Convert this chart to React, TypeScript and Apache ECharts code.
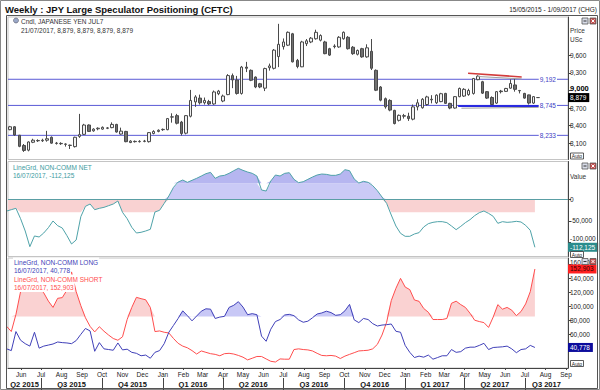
import React, { useEffect, useRef } from 'react';
import * as echarts from 'echarts';

const DAY = 86400000;
const WEEK = 7 * DAY;
const candleStart = Date.UTC(2015, 4, 15);
const cotStart = Date.UTC(2015, 4, 10);
const axisStart = Date.UTC(2015, 4, 12);
const axisEnd = Date.UTC(2017, 8, 4);

// weekly candles (USc x100) from 15/05/2015
const opens = [8330,8380,8235,8060,7980,8115,8145,8140,8150,8200,8100,8095,8085,8065,8040,8215,8250,8410,8310,8345,8340,8360,8365,8420,8255,8300,8110,8130,8125,8130,8125,8265,8300,8330,8330,8545,8570,8460,8270,8560,8805,8870,8790,8810,8770,8945,8820,8930,9255,9180,8950,9400,9345,9230,9115,9040,9390,9380,9580,9750,9775,9970,9515,9405,9800,9830,9885,9860,9830,9715,9750,9745,9885,9910,9740,9620,9715,9575,9670,9345,9060,8860,8830,8660,8490,8560,8560,8510,8720,8705,8760,8850,8790,8810,8950,8780,8700,8895,8905,8930,8950,9185,9150,8980,8880,8785,8990,8985,9040,9095,9000,8950,8925,8785,8879];
const closes = [8380,8240,8045,7975,8120,8150,8140,8150,8175,8100,8095,8090,8080,8060,8200,8245,8410,8300,8340,8355,8370,8355,8420,8290,8305,8125,8135,8125,8130,8135,8280,8300,8320,8335,8520,8550,8440,8265,8570,8830,8890,8790,8830,8770,8975,8990,8905,9255,9180,8950,9400,9380,9175,9060,9060,9375,9420,9690,9790,9830,9995,9490,9410,9830,9850,9895,9995,9940,9630,9605,9760,9910,9995,9715,9630,9685,9575,9730,9380,9005,8835,8720,8665,8435,8575,8570,8520,8720,8790,8850,8890,8840,8920,8945,8780,8700,8895,9035,9020,9000,9205,9245,8955,8870,8760,8980,8980,9035,9120,9020,8995,8870,8785,8895,8879];
const lows = [8320,8225,8030,7950,7960,8100,8120,8120,8125,8090,8075,8070,8040,8000,8025,8190,8240,8290,8295,8320,8330,8340,8355,8280,8245,8115,8100,8110,8110,8115,8110,8250,8285,8310,8320,8450,8420,8230,8250,8540,8720,8760,8760,8750,8755,8920,8800,8920,9040,8930,8930,9315,9160,9040,9040,8990,9340,9360,9400,9700,9760,9480,9380,9400,9760,9810,9870,9840,9620,9590,9720,9730,9870,9700,9610,9600,9560,9560,9350,8990,8815,8690,8645,8420,8470,8520,8480,8490,8660,8690,8740,8780,8770,8800,8770,8680,8690,8885,8890,8910,8930,9175,8940,8855,8740,8770,8950,8975,9030,8980,8950,8860,8760,8770,8879];
const highs = [8395,8390,8240,8085,8130,8175,8165,8175,8310,8215,8120,8115,8095,8075,8210,8600,8430,8420,8355,8370,8385,8375,8455,8430,8365,8310,8150,8145,8150,8155,8290,8320,8335,8350,8530,8610,8600,8480,8580,9010,8920,8930,8880,8840,9000,9010,8930,9280,9290,9250,9420,9490,9360,9240,9130,9390,9460,9710,10140,9890,10010,9985,9540,9850,9880,9915,10040,9960,9850,9730,9790,9930,10010,9930,9760,9700,9730,9790,9880,9360,9075,8880,8850,8670,8590,8600,8620,8760,8850,8870,8910,8920,8935,8960,8960,8790,8905,9050,9040,9030,9215,9260,9165,8990,8900,8990,9010,9045,9190,9210,9010,8960,8930,8905,8879];

// weekly CFTC positions from 10/05/2015 to 16/07/2017
const netValues = [-27000,-23900,-20700,-45000,-73900,-110700,-85600,-88000,-78600,-66100,-50400,-61400,-66900,-84800,-104400,-95000,-40300,-16000,-10600,-23900,-20700,-18400,-14500,-10600,-3500,-30100,-45000,-65300,-78600,-77000,-73900,-70000,-29300,-25400,-9000,8200,28500,41000,45700,40300,45000,49700,55100,60600,63700,49700,55100,56700,61400,67600,73100,68400,64500,61400,55100,22300,19900,43400,57500,55100,61400,62900,47300,39500,41800,47300,52800,57500,59800,59000,56700,56700,59800,70000,67600,48100,38700,42600,40300,32500,20700,5900,-9000,-36400,-62200,-79400,-86400,-86400,-80900,-77800,-64500,-56700,-53600,-52000,-52000,-54300,-62200,-70800,-63000,-54300,-47300,-37900,-30900,-27000,-32500,-39500,-55900,-52000,-53600,-52800,-51200,-52800,-60600,-72300,-112125];
const longValues = [38800,36300,63500,51100,46200,42700,62500,39800,42700,44200,45700,48600,47700,47200,46200,50600,59500,67900,64400,35300,47700,38800,37800,36800,47200,37300,38300,33800,32400,28900,29900,25400,33800,36300,46200,62500,72300,82200,93100,86200,78800,85700,92600,96000,95500,82200,84200,85200,98000,101000,106200,98500,87600,89100,87600,57000,49600,66900,77800,80700,87200,88100,86200,80200,76800,78300,83200,88600,90100,92600,90600,86700,87600,93100,102300,80200,76300,82200,80700,74800,71400,72800,73300,74300,63900,62500,43700,33800,26400,28400,26900,29900,24000,26400,28900,28900,37800,33800,34800,39800,41200,41200,43700,46700,37800,40700,41200,41700,42700,38800,33300,37800,38800,43700,40778];
const shortValues = [70900,63500,88000,120500,122700,146800,143000,125600,118800,107000,98000,111000,112000,122700,148700,120500,100500,83200,70900,63000,70400,64000,58500,53600,51100,56000,80700,98000,112400,110500,108900,98000,63500,64400,62500,61500,53600,46700,42700,40300,36300,31400,35800,33800,31900,30900,28900,31900,32400,31400,29400,26900,23000,25400,27900,27900,24400,21000,20000,24400,24000,24000,37800,38800,37800,37300,35800,32400,29400,28900,29400,28400,25000,28400,30900,33300,35800,36300,36800,38800,45200,58500,76800,107700,125200,139500,127100,123400,108600,106700,96500,91100,80700,80700,80700,82200,103900,106900,102000,98000,89600,79700,77800,76300,69400,84200,102000,95500,98000,94100,86200,92100,103000,120500,152903];

const priceTicks = [8100, 8400, 8700, 9000, 9300, 9600];
const netTicks = [0, -50000, -100000];
const posTicks = [40000, 60000, 80000, 100000, 120000, 140000, 160000];
const posLabelTicks = [60000, 80000, 100000, 120000, 140000, 160000];
const levelLines = [9192, 8745, 8233];
const netUpper = 38000;
const netLower = -30000;
const posUpper = 85000;
const monthNames = ['Jan','Feb','Mar','Apr','May','Jun','Jul','Aug','Sep','Oct','Nov','Dec'];

const FONT = '"Liberation Sans", Arial, sans-serif';
const LEVEL_COLOR = '#5a5ad6';
const HIDDEN_LINE = { width: 0, color: 'rgba(0,0,0,0)', type: 'solid' };
const fmt = (v: number) => String(v).replace(/\B(?=(\d{3})+(?!\d))/g, ',');

function buildOption() {
  const candleDates = opens.map((_, i) => candleStart + i * WEEK);
  const cotDates = netValues.map((_, i) => cotStart + i * WEEK);
  const candleData = opens.map((o, i) => [candleDates[i], o, closes[i], lows[i], highs[i]]);
  const pair = (vals: number[]) => vals.map((v, i) => [cotDates[i], v]);
  const lastClose = closes[closes.length - 1];
  const lastNet = netValues[netValues.length - 1];
  const lastLong = longValues[longValues.length - 1];
  const lastShort = shortValues[shortValues.length - 1];

  const monthStarts: number[] = [];
  for (let y = 2015, m = 5; y < 2017 || (y === 2017 && m <= 8); m++) {
    if (m > 11) { m = 0; y++; }
    monthStarts.push(Date.UTC(y, m, 1));
  }
  const quarterStarts: number[] = [];
  const quarterMids: number[] = [];
  for (let y = 2015, q = 1; y < 2017 || (y === 2017 && q <= 2); q++) {
    if (q > 3) { q = 0; y++; }
    const s = Date.UTC(y, q * 3, 1);
    const e = q === 3 ? Date.UTC(y + 1, 0, 1) : Date.UTC(y, q * 3 + 3, 1);
    if (s > axisStart) quarterStarts.push(s);
    const vs = Math.max(s, axisStart), ve = Math.min(e, axisEnd);
    quarterMids.push((vs + ve) / 2);
  }

  const dateAxis = (gridIndex: number, show: boolean) => ({
    type: 'value', gridIndex, min: axisStart, max: axisEnd, show,
    splitLine: { show: false },
    axisLine: { show, onZero: false, lineStyle: { color: '#444', width: 1 } },
    axisTick: { show, length: 2, customValues: monthStarts, lineStyle: { color: '#444' } },
    axisLabel: {
      show, customValues: monthStarts, fontSize: 6.5, color: '#222', fontFamily: FONT, margin: 3,
      formatter: (v: number) => monthNames[new Date(v).getUTCMonth()],
    },
  });

  const valueAxis = (gridIndex: number, min: number, max: number, ticks: number[], labelTicks: number[], formatter: any, rich?: any) => ({
    type: 'value', gridIndex, position: 'right', min, max,
    splitLine: { show: false },
    axisLine: { show: true, onZero: false, lineStyle: { color: '#444', width: 1 } },
    axisTick: { show: true, length: 3, customValues: ticks, lineStyle: { color: '#444' } },
    axisLabel: { customValues: labelTicks, fontSize: 6.5, color: '#222', fontFamily: FONT, margin: 2, formatter, rich },
  });

  const endLabel = (v: number, bg: string, fg: string) => ({
    yAxis: v,
    lineStyle: HIDDEN_LINE,
    label: {
      show: true, position: 'end', distance: 0, formatter: fmt(v), color: fg, backgroundColor: bg,
      fontSize: 6.5, fontFamily: FONT, padding: [1, 3, 1, 2],
    },
  });

  const noLine = { width: 0, opacity: 0 };

  const texts: any[] = [];
  const addText = (x: number, y: number, text: string, style: any = {}) => texts.push({
    type: 'text', x, y, z: 50,
    style: { text, fontSize: 6.5, fontFamily: FONT, fill: '#333', textVerticalAlign: 'middle', ...style },
  });
  addText(5, 9, 'Weekly : JPY Large Speculator Positioning (CFTC)', { fontSize: 9.5, fontWeight: 'bold', fill: '#111' });
  addText(597, 9, '15/05/2015 - 1/09/2017 (CHG)', { textAlign: 'right', fontSize: 6.5, fill: '#222' });
  addText(21, 21, 'Cndl, JAPANESE YEN JUL7', { fill: '#333' });
  addText(21, 30, '21/07/2017, 8,879, 8,879, 8,879, 8,879', { fill: '#333' });
  addText(13, 167, 'LineGrd, NON-COMM NET', { fill: '#3b9aa0', backgroundColor: '#fff' });
  addText(13, 175.5, '16/07/2017, ' + fmt(lastNet), { fill: '#3b9aa0', backgroundColor: '#fff' });
  addText(13, 262, 'LineGrd, NON-COMM LONG', { fill: '#4040b8', backgroundColor: '#fff', padding: [1, 1] });
  addText(13, 270.5, '16/07/2017, ' + fmt(lastLong), { fill: '#4040b8', backgroundColor: '#fff', padding: [1, 1] });
  addText(13, 279, 'LineGrd, NON-COMM SHORT', { fill: '#ff4d4d', backgroundColor: '#fff', padding: [1, 1] });
  addText(13, 287.5, '16/07/2017, ' + fmt(lastShort), { fill: '#ff4d4d', backgroundColor: '#fff', padding: [1, 1] });
  addText(570, 30.5, 'Price', { fill: '#333' });
  addText(570, 39.5, 'USc', { fill: '#333' });
  addText(570, 176, 'Value', { fill: '#333' });

  const buttons = (y: number) => [
    { type: 'rect', z: 50, shape: { x: 582, y, width: 6, height: 6 }, style: { fill: '#d8dce8', stroke: '#555', lineWidth: 0.8 } },
    { type: 'line', z: 51, shape: { x1: 583.5, y1: y + 3, x2: 586.5, y2: y + 3 }, style: { stroke: '#333', lineWidth: 1 } },
    { type: 'rect', z: 50, shape: { x: 590, y, width: 6, height: 6 }, style: { fill: '#c85050', stroke: '#555', lineWidth: 0.8 } },
    { type: 'line', z: 51, shape: { x1: 591.5, y1: y + 1.5, x2: 594.5, y2: y + 4.5 }, style: { stroke: '#fff', lineWidth: 1 } },
    { type: 'line', z: 51, shape: { x1: 594.5, y1: y + 1.5, x2: 591.5, y2: y + 4.5 }, style: { stroke: '#fff', lineWidth: 1 } },
  ];
  const autoBox = (y: number) => [
    { type: 'rect', z: 40, shape: { x: 570.5, y, width: 13, height: 6 }, style: { fill: '#fff', stroke: '#333', lineWidth: 0.8 } },
    { type: 'text', z: 41, x: 577, y: y + 3.1, style: { text: 'Auto', fontSize: 5, fontFamily: FONT, fill: '#222', textAlign: 'center', textVerticalAlign: 'middle' } },
  ];

  const graphic = [
    { type: 'rect', z: 0, shape: { x: 0.5, y: 0.5, width: 599, height: 389 }, style: { fill: 'none', stroke: '#888', lineWidth: 1 } },
    { type: 'rect', z: 60, shape: { x: 6.5, y: 15.5, width: 591, height: 373 }, style: { fill: 'none', stroke: '#555', lineWidth: 1 } },
    { type: 'circle', z: 50, shape: { cx: 16, cy: 20.5, r: 2.5 }, style: { fill: '#9aa8c8', stroke: '#556', lineWidth: 0.6 } },
    ...texts,
    ...buttons(18),
    ...buttons(163),
    ...buttons(258.5),
    ...autoBox(153),
    ...autoBox(251.5),
    ...autoBox(360.5),
  ];

  // level label holders (their own line is hidden; the visible line is drawn by a line series)
  const levelLabelItems = levelLines.map((v) => ({
    yAxis: v,
    lineStyle: HIDDEN_LINE,
    label: {
      show: true, position: 'insideEndTop', distance: [11, -4], formatter: fmt(v), color: '#4040c4',
      fontSize: 6.5, fontFamily: FONT, backgroundColor: '#fff', padding: [0, 1],
    },
  }));

  const levelSeries = levelLines.map((v) => ({
    type: 'line', name: 'level ' + v, xAxisIndex: 0, yAxisIndex: 0, symbol: 'none', silent: true, z: 1,
    data: [[axisStart, v], [axisEnd, v]],
    lineStyle: { color: LEVEL_COLOR, width: 1, type: 'solid' },
  }));

  return {
    animation: false,
    backgroundColor: '#fff',
    textStyle: { fontFamily: FONT },
    graphic,
    grid: [
      { left: 8, top: 17, width: 560, height: 142.5, show: true, borderColor: '#c4c4c4', borderWidth: 1 },
      { left: 8, top: 161.5, width: 560, height: 95, show: true, borderColor: '#c4c4c4', borderWidth: 1 },
      { left: 8, top: 258, width: 560, height: 110, show: true, borderColor: '#c4c4c4', borderWidth: 1 },
    ],
    xAxis: [
      dateAxis(0, false),
      dateAxis(1, false),
      dateAxis(2, true),
      {
        type: 'value', gridIndex: 2, min: axisStart, max: axisEnd, position: 'bottom', offset: 10,
        splitLine: { show: false }, axisLine: { show: false, onZero: false },
        axisTick: { show: true, length: 12, customValues: quarterStarts, lineStyle: { color: '#444' } },
        axisLabel: {
          customValues: quarterMids, fontSize: 7.5, fontWeight: 'bold', color: '#111', fontFamily: FONT, margin: 2,
          formatter: (v: number) => { const d = new Date(v); return 'Q' + (Math.floor(d.getUTCMonth() / 3) + 1) + ' ' + d.getUTCFullYear(); },
        },
      },
    ],
    yAxis: [
      valueAxis(0, 7820, 10257, priceTicks, priceTicks, (v: number) => (v === 9000 ? '{b|9,000}' : fmt(v)), { b: { fontWeight: 'bold', fontSize: 7.5, color: '#000', fontFamily: FONT, padding: [0, 0, 5, 0] } }),
      valueAxis(1, -133780, 89190, netTicks, netTicks, (v: number) => (v === -100000 ? '{u|' + fmt(v) + '}' : fmt(v)), { u: { padding: [0, 0, 7, 0], fontSize: 6.5, color: '#222', fontFamily: FONT } }),
      valueAxis(2, 11430, 168600, posTicks, posLabelTicks, (v: number) => (v === 160000 ? '{u|' + fmt(v) + '}' : fmt(v)), { u: { padding: [0, 0, 3, 0], fontSize: 6.5, color: '#222', fontFamily: FONT } }),
    ],
    series: [
      ...levelSeries,
      {
        type: 'candlestick', name: 'JPY', xAxisIndex: 0, yAxisIndex: 0, data: candleData, barWidth: 3, z: 3,
        itemStyle: { color: '#f2f2f2', color0: '#707070', borderColor: '#4a4a4a', borderColor0: '#4a4a4a', borderWidth: 1 },
        markLine: {
          silent: true, symbol: ['none', 'none'], label: { show: false },
          data: [
            ...levelLabelItems,
            [
              { coord: [Date.UTC(2017, 3, 20), 9240], lineStyle: { color: '#a0a0a0', width: 1, type: 'solid' } },
              { coord: [Date.UTC(2017, 5, 26), 9198] },
            ],
            [
              { coord: [Date.UTC(2017, 3, 6), 9295], lineStyle: { color: '#d23c3c', width: 1.6, type: 'solid' } },
              { coord: [Date.UTC(2017, 5, 26), 9232] },
            ],
            [
              { coord: [Date.UTC(2017, 2, 27), 8697], lineStyle: { color: '#a0a0a0', width: 1, type: 'solid' } },
              { coord: [Date.UTC(2017, 6, 22), 8712] },
            ],
            [
              { coord: [Date.UTC(2017, 2, 22), 8747], lineStyle: { color: '#2a2ae0', width: 1.8, type: 'solid' } },
              { coord: [Date.UTC(2017, 6, 22), 8747] },
            ],
            endLabel(lastClose, '#000', '#fff'),
          ],
        },
      },
      {
        type: 'line', name: 'netNeg', xAxisIndex: 1, yAxisIndex: 1, symbol: 'none', silent: true,
        data: pair(netValues.map((v) => (v < 0 ? Math.max(v, netLower) : 0))),
        lineStyle: noLine, areaStyle: { color: '#f9d2d2', opacity: 1, origin: 0 },
      },
      {
        type: 'line', name: 'netPosLow', xAxisIndex: 1, yAxisIndex: 1, symbol: 'none', silent: true,
        data: pair(netValues.map((v) => (v > 0 ? Math.min(v, netUpper) : 0))),
        lineStyle: noLine, areaStyle: { color: '#cacaf6', opacity: 1, origin: 0 },
      },
      {
        type: 'line', name: 'netPosHigh', xAxisIndex: 1, yAxisIndex: 1, symbol: 'none', silent: true,
        data: pair(netValues.map((v) => Math.max(v, netUpper))),
        lineStyle: noLine, areaStyle: { color: '#b6b6f0', opacity: 1, origin: netUpper },
      },
      {
        type: 'line', name: 'zero', xAxisIndex: 1, yAxisIndex: 1, symbol: 'none', silent: true, z: 4,
        data: [[axisStart, 0], [axisEnd, 0]],
        lineStyle: { color: '#5a9ea4', width: 1, type: 'solid' },
      },
      {
        type: 'line', name: 'NON-COMM NET', xAxisIndex: 1, yAxisIndex: 1, symbol: 'none',
        data: pair(netValues), lineStyle: { color: '#4fa3a9', width: 1 }, z: 5,
        markLine: {
          silent: true, symbol: ['none', 'none'], label: { show: false },
          data: [endLabel(lastNet, '#2b8c8c', '#fff')],
        },
      },
      {
        type: 'line', name: 'shortFill', xAxisIndex: 2, yAxisIndex: 2, symbol: 'none', silent: true,
        data: pair(shortValues.map((v) => Math.max(v, posUpper))),
        lineStyle: noLine, areaStyle: { color: '#fad2d2', opacity: 1, origin: posUpper },
      },
      {
        type: 'line', name: 'longFill', xAxisIndex: 2, yAxisIndex: 2, symbol: 'none', silent: true,
        data: pair(longValues.map((v) => Math.max(v, posUpper))),
        lineStyle: noLine, areaStyle: { color: '#c8c8f6', opacity: 1, origin: posUpper },
      },
      {
        type: 'line', name: 'NON-COMM SHORT', xAxisIndex: 2, yAxisIndex: 2, symbol: 'none',
        data: pair(shortValues), lineStyle: { color: '#ff4d4d', width: 1 }, z: 5,
        markLine: { silent: true, symbol: ['none', 'none'], label: { show: false }, data: [endLabel(lastShort, '#ff2020', '#300')] },
      },
      {
        type: 'line', name: 'NON-COMM LONG', xAxisIndex: 2, yAxisIndex: 2, symbol: 'none',
        data: pair(longValues), lineStyle: { color: '#4040b8', width: 1 }, z: 5,
        markLine: { silent: true, symbol: ['none', 'none'], label: { show: false }, data: [endLabel(lastLong, '#0c0c9c', '#fff')] },
      },
    ],
  };
}

export default function App() {
  const ref = useRef<HTMLDivElement>(null);
  useEffect(() => {
    document.body.style.margin = '0';
    const chart = echarts.init(ref.current as HTMLDivElement, null, { renderer: 'svg' });
    chart.setOption(buildOption() as any);
    return () => chart.dispose();
  }, []);
  return <div ref={ref} style={{ width: 600, height: 390 }} />;
}
